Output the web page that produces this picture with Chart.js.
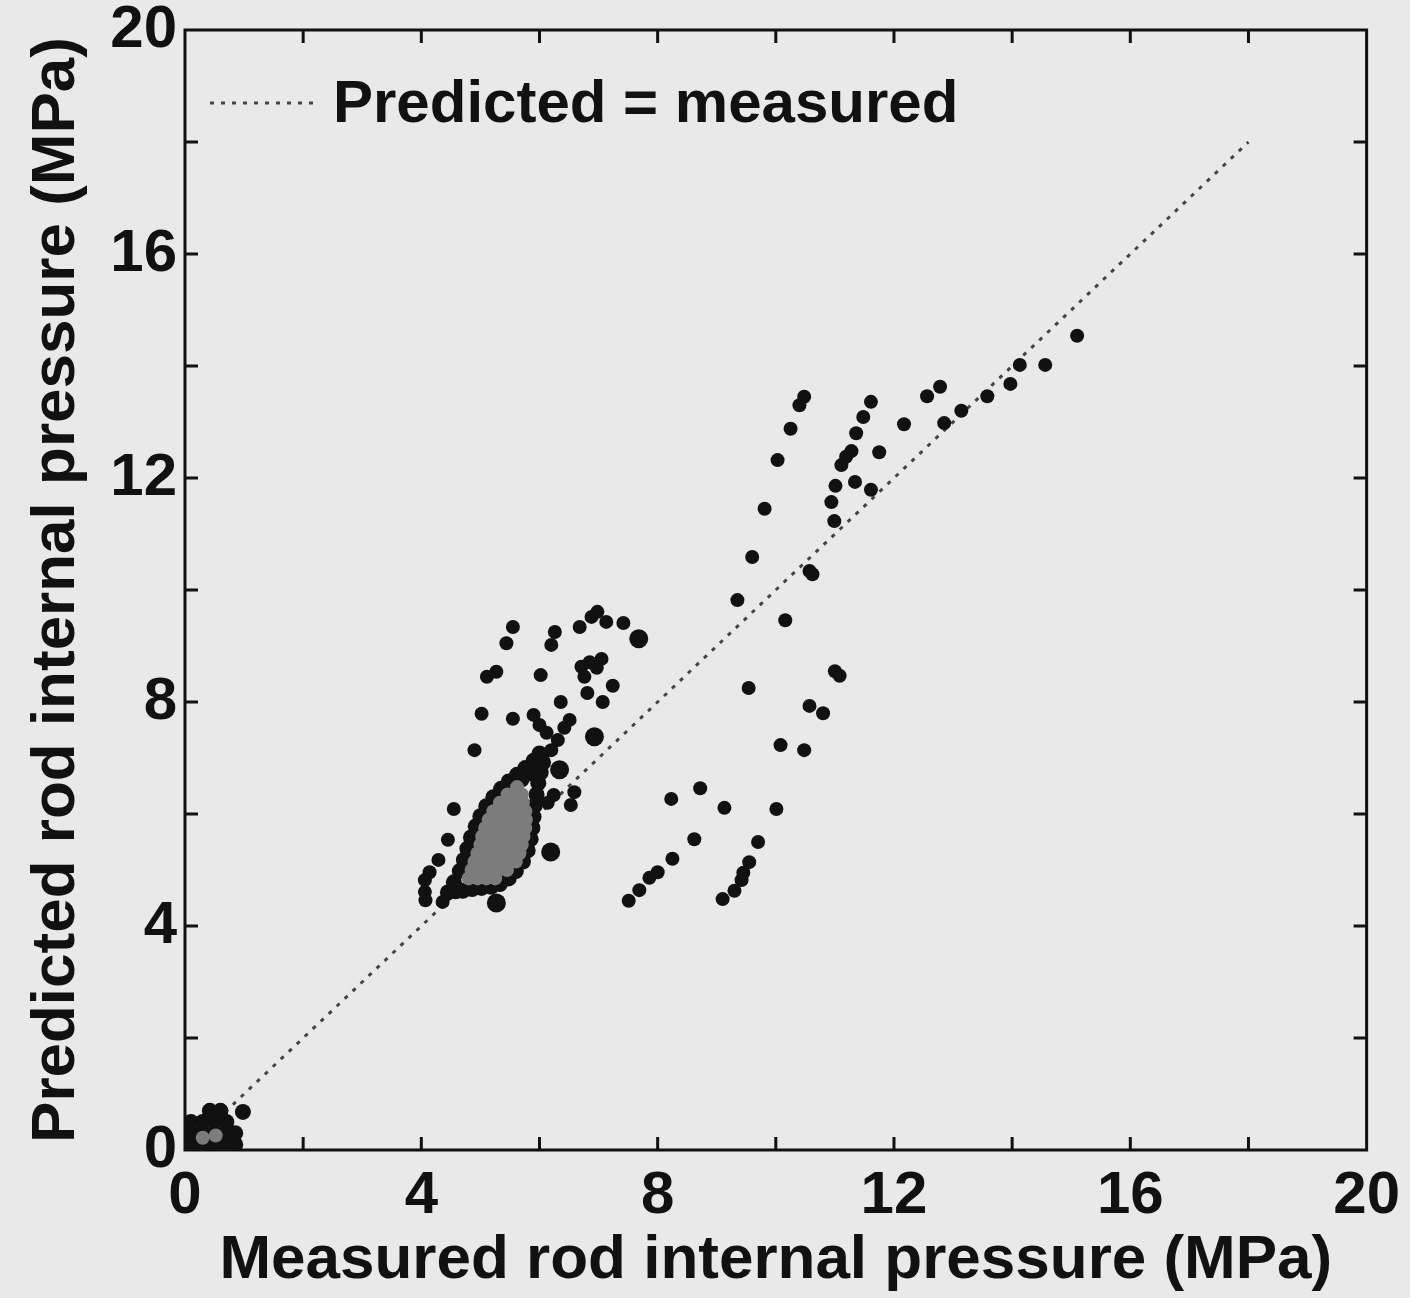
<!DOCTYPE html>
<html>
<head>
<meta charset="utf-8">
<script src="https://cdn.jsdelivr.net/npm/chart.js@4"></script>
<style>
  html, body { margin: 0; padding: 0; background: #e9e9e9; }
  #wrap { width: 1410px; height: 1298px; }
</style>
</head>
<body>
<div id="wrap"><canvas id="chart" width="1410" height="1298"></canvas></div>
<script>
// measured (x) vs predicted (y), MPa
const scatterX = [
    15.10, 14.56, 14.13, 13.97, 13.58, 13.14, 12.85, 12.78, 12.56, 12.17,
    11.75, 11.61, 11.48, 11.36, 11.28, 11.19, 11.11, 11.61, 11.34, 11.01,
    10.94, 10.99, 10.48, 10.40, 10.25, 10.03, 9.81, 9.60, 10.57, 10.62,
    9.35, 10.16, 9.54, 11.00, 11.08, 10.57, 10.80, 10.08, 10.48, 8.72,
    8.23, 9.13, 10.01, 8.62, 9.70, 9.55, 9.45, 9.42, 9.30, 9.10,
    8.25, 8.00, 7.86, 7.69, 7.51,
    6.68, 6.88, 6.98, 7.13, 7.42, 5.55, 5.44, 6.26, 6.20,
    5.11, 5.27, 6.02, 6.71, 6.85, 7.05, 6.76, 6.97, 7.24, 6.81, 7.07, 6.36,
    5.02, 5.55, 5.90, 6.00, 6.12, 6.51, 6.42, 6.31, 4.90,
    6.20, 6.05, 5.95, 6.24, 6.14, 6.59, 6.53, 4.55,
    4.45, 4.29, 4.14, 4.06, 4.06, 4.07, 4.36
];
const scatterY = [
    14.54, 14.02, 14.02, 13.68, 13.46, 13.20, 12.98, 13.63, 13.46, 12.96,
    12.46, 13.36, 13.09, 12.80, 12.48, 12.38, 12.23, 11.79, 11.93, 11.86,
    11.57, 11.23, 13.45, 13.30, 12.88, 12.32, 11.45, 10.59, 10.34, 10.28,
    9.82, 9.46, 8.25, 8.55, 8.47, 7.93, 7.80, 7.23, 7.14, 6.46,
    6.27, 6.11, 6.09, 5.55, 5.50, 5.14, 4.95, 4.82, 4.63, 4.48,
    5.20, 4.96, 4.86, 4.64, 4.45,
    9.34, 9.52, 9.61, 9.43, 9.41, 9.34, 9.05, 9.25, 9.02,
    8.45, 8.54, 8.48, 8.63, 8.71, 8.77, 8.45, 8.61, 8.29, 8.16, 8.00, 8.00,
    7.79, 7.70, 7.77, 7.59, 7.45, 7.68, 7.54, 7.32, 7.14,
    7.14, 7.02, 6.93, 6.34, 6.20, 6.39, 6.16, 6.09,
    5.54, 5.18, 4.96, 4.82, 4.61, 4.46, 4.43
];

// larger symbols
const largeX = [7.68, 6.93, 6.34, 6.19, 5.27];
const largeY = [9.13, 7.38, 6.79, 5.32, 4.41];

// outline of the dense cluster near 5 MPa
const rimX = [
    4.45, 4.55, 4.65, 4.72, 4.78, 4.84, 4.92, 5.00, 5.10, 5.22, 5.35, 5.48,
    5.62, 5.76, 5.90, 6.00, 6.06, 6.02, 5.98, 5.95, 5.92, 5.90, 5.88, 5.85,
    5.80, 5.72, 5.60, 5.48, 5.33, 5.18, 5.02, 4.86, 4.70, 4.58,
    5.80, 5.92, 5.70
];
const rimY = [
    4.60, 4.78, 4.98, 5.18, 5.38, 5.58, 5.78, 5.96, 6.14, 6.30, 6.45, 6.58,
    6.70, 6.82, 6.95, 7.08, 6.92, 6.74, 6.55, 6.35, 6.15, 5.95, 5.75, 5.55,
    5.35, 5.15, 4.98, 4.85, 4.75, 4.70, 4.68, 4.66, 4.63, 4.62,
    6.78, 6.70, 6.62
];

// inside of the dense cluster (grey where the symbols pile up)
const coreX = [
    4.80, 4.95, 5.10, 5.25,
    4.85, 5.00, 5.15, 5.30, 5.45,
    4.90, 5.05, 5.20, 5.35, 5.50, 5.60,
    4.95, 5.10, 5.25, 5.40, 5.55, 5.66,
    5.00, 5.15, 5.30, 5.45, 5.60, 5.70,
    5.03, 5.18, 5.33, 5.48, 5.62, 5.73,
    5.08, 5.23, 5.38, 5.52, 5.66, 5.76,
    5.14, 5.28, 5.42, 5.56, 5.68, 5.77,
    5.22, 5.36, 5.50, 5.64, 5.76,
    5.33, 5.46, 5.60, 5.72,
    5.46, 5.58, 5.70,
    5.62
];
const coreY = [
    4.85, 4.85, 4.85, 4.85,
    5.00, 5.00, 5.00, 5.00, 5.00,
    5.15, 5.15, 5.15, 5.15, 5.15, 5.15,
    5.30, 5.30, 5.30, 5.30, 5.30, 5.30,
    5.45, 5.45, 5.45, 5.45, 5.45, 5.45,
    5.60, 5.60, 5.60, 5.60, 5.60, 5.60,
    5.75, 5.75, 5.75, 5.75, 5.75, 5.75,
    5.90, 5.90, 5.90, 5.90, 5.90, 5.90,
    6.05, 6.05, 6.05, 6.05, 6.05,
    6.20, 6.20, 6.20, 6.20,
    6.35, 6.35, 6.35,
    6.48
];

// small cluster at the origin
const originX = [0.10, 0.30, 0.50, 0.70, 0.85, 0.10, 0.30, 0.50, 0.70, 0.85, 0.10, 0.30, 0.50, 0.70, 0.42, 0.60, 0.98];
const originY = [0.10, 0.10, 0.10, 0.10, 0.10, 0.30, 0.30, 0.30, 0.30, 0.30, 0.50, 0.50, 0.50, 0.50, 0.70, 0.70, 0.68];
const originCoreX = [0.30, 0.52];
const originCoreY = [0.22, 0.26];

// predicted = measured
const idealX = [0, 18];
const idealY = [0, 18];

const axisMax = 20;
const tickStep = 2;
const labelStep = 4;
const legendText = 'Predicted = measured';

const pts = (xs, ys) => xs.map((x, i) => ({ x, y: ys[i] }));

const FONT = "'Liberation Sans', Arial, Helvetica, sans-serif";
const INK = '#111111';

const bgPlugin = {
    id: 'paper',
    beforeDraw(chart) {
        const { ctx, width, height } = chart;
        ctx.save();
        ctx.fillStyle = '#e9e9e9';
        ctx.fillRect(0, 0, width, height);
        ctx.restore();
    }
};

// frame with inward ticks on all four sides, plus the legend
const framePlugin = {
    id: 'frame',
    afterDraw(chart) {
        const { ctx, chartArea: a, scales: { x, y } } = chart;
        ctx.save();
        ctx.strokeStyle = INK;
        ctx.lineWidth = 3;
        ctx.strokeRect(a.left, a.top, a.right - a.left, a.bottom - a.top);
        const len = 13;
        ctx.beginPath();
        x.ticks.forEach(t => {
            if (t.value <= 0 || t.value >= axisMax) return;
            const px = x.getPixelForValue(t.value);
            ctx.moveTo(px, a.bottom); ctx.lineTo(px, a.bottom - len);
            ctx.moveTo(px, a.top); ctx.lineTo(px, a.top + len);
        });
        y.ticks.forEach(t => {
            if (t.value <= 0 || t.value >= axisMax) return;
            const py = y.getPixelForValue(t.value);
            ctx.moveTo(a.left, py); ctx.lineTo(a.left + len, py);
            ctx.moveTo(a.right, py); ctx.lineTo(a.right - len, py);
        });
        ctx.stroke();

        // legend
        const lx = a.left + 25, ly = a.top + 73;
        ctx.strokeStyle = '#444';
        ctx.lineWidth = 3;
        ctx.setLineDash([4, 7]);
        ctx.beginPath();
        ctx.moveTo(lx, ly);
        ctx.lineTo(lx + 110, ly);
        ctx.stroke();
        ctx.setLineDash([]);
        ctx.fillStyle = INK;
        ctx.font = `bold 60px ${FONT}`;
        ctx.textBaseline = 'alphabetic';
        ctx.fillText(legendText, lx + 123, a.top + 92);
        ctx.restore();
    }
};

new Chart(document.getElementById('chart'), {
    type: 'scatter',
    data: {
        datasets: [
            {
                label: 'cluster core',
                data: pts(coreX, coreY).concat(pts(originCoreX, originCoreY)),
                backgroundColor: '#7c7c7c',
                borderWidth: 0,
                pointRadius: 7,
                order: 0
            },
            {
                label: 'cluster rim',
                data: pts(rimX, rimY).concat(pts(originX, originY)),
                backgroundColor: INK,
                borderWidth: 0,
                pointRadius: 8,
                clip: 0,
                order: 1
            },
            {
                label: 'rods',
                data: pts(scatterX, scatterY),
                backgroundColor: INK,
                borderWidth: 0,
                pointRadius: 7,
                order: 2
            },
            {
                label: 'rods (large)',
                data: pts(largeX, largeY),
                backgroundColor: INK,
                borderWidth: 0,
                pointRadius: 9.5,
                order: 2
            },
            {
                type: 'line',
                label: legendText,
                data: pts(idealX, idealY),
                borderColor: '#444',
                borderWidth: 3,
                borderDash: [4, 7],
                pointRadius: 0,
                fill: false,
                order: 3
            }
        ]
    },
    options: {
        responsive: false,
        animation: false,
        devicePixelRatio: 1,
        layout: { autoPadding: false, padding: { top: 30, right: 42, left: 0, bottom: 0 } },
        plugins: {
            legend: { display: false },
            tooltip: { enabled: false }
        },
        scales: {
            x: {
                type: 'linear',
                min: 0,
                max: axisMax,
                grid: { display: false, drawTicks: false },
                border: { display: false },
                ticks: {
                    stepSize: tickStep,
                    autoSkip: false,
                    maxRotation: 0,
                    padding: 10,
                    color: INK,
                    font: { family: FONT, size: 60, weight: 'bold' },
                    callback: v => (v % labelStep === 0 ? String(v) : '')
                },
                title: {
                    display: true,
                    text: 'Measured rod internal pressure (MPa)',
                    color: INK,
                    font: { family: FONT, size: 62, weight: 'bold' },
                    padding: { top: 0, bottom: 0 }
                },
                afterFit: s => { s.height = 148; }
            },
            y: {
                type: 'linear',
                min: 0,
                max: axisMax,
                grid: { display: false, drawTicks: false },
                border: { display: false },
                ticks: {
                    stepSize: tickStep,
                    autoSkip: false,
                    padding: 8,
                    color: INK,
                    font: { family: FONT, size: 60, weight: 'bold', lineHeight: 0.7 },
                    callback: v => (v % labelStep === 0 ? String(v) : '')
                },
                title: {
                    display: true,
                    text: 'Predicted rod internal pressure (MPa)',
                    color: INK,
                    font: { family: FONT, size: 62, weight: 'bold' },
                    padding: { top: 20, bottom: 0 }
                },
                afterFit: s => { s.width = 185; }
            }
        }
    },
    plugins: [bgPlugin, framePlugin]
});
</script>
</body>
</html>
